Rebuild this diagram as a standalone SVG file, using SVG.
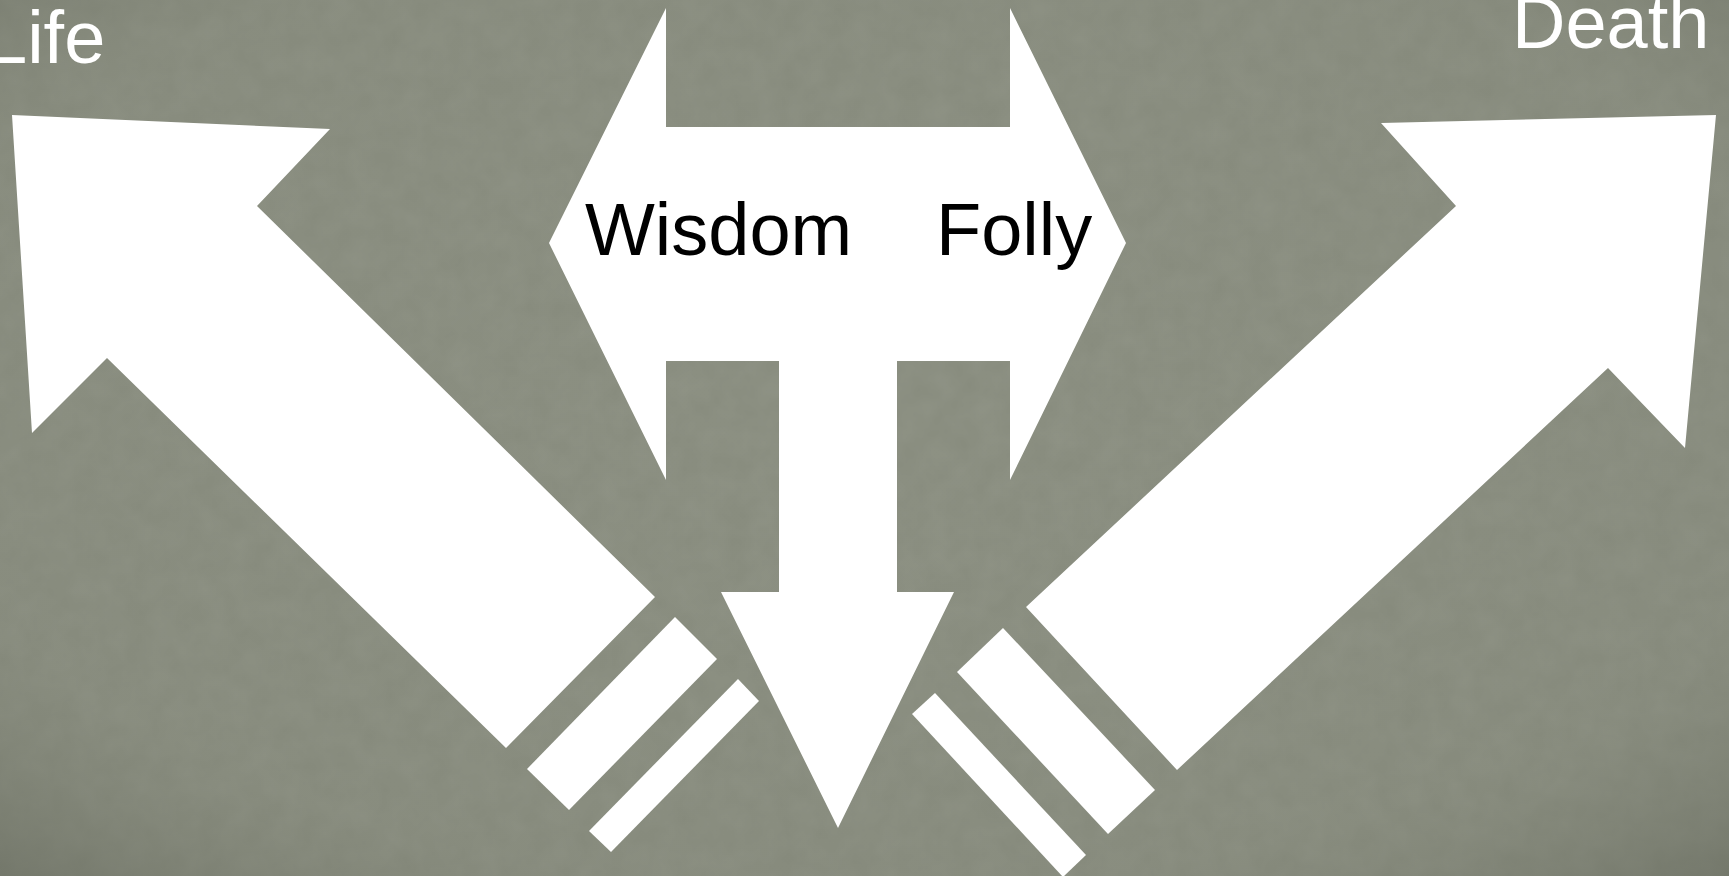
<svg xmlns="http://www.w3.org/2000/svg" width="1729" height="876" viewBox="0 0 1729 876">
<style>
.shape{fill:#ffffff;stroke:none}
.lbl{font-family:"Liberation Sans",Arial,sans-serif;font-size:74px}
.dark{fill:#000000}
.light{fill:#ffffff}
</style>
<defs>
<radialGradient id="vig" cx="50%" cy="45%" r="75%">
<stop offset="0" stop-color="#8b8f81" stop-opacity="0"/>
<stop offset="0.75" stop-color="#7a7e70" stop-opacity="0.15"/>
<stop offset="1" stop-color="#5f6357" stop-opacity="0.55"/>
</radialGradient>
<filter id="grain" x="0" y="0" width="100%" height="100%">
<feTurbulence type="fractalNoise" baseFrequency="0.04" numOctaves="3" seed="7" result="n"/>
<feColorMatrix in="n" type="matrix" values="0 0 0 0 0.45  0 0 0 0 0.47  0 0 0 0 0.41  0 0 0 0.18 0"/>
</filter>
</defs>
<g id="background">
<rect x="0" y="0" width="1729" height="876" fill="#878b7d"/>
<rect x="0" y="0" width="1729" height="876" filter="url(#grain)"/>
<rect x="0" y="0" width="1729" height="876" fill="url(#vig)"/>
</g>
<g id="connectors">
<polygon id="arrow-life" class="shape" points="12,115 330,129 257,206 655,597 506,748 107,358 32,433"/>
<polygon id="arrow-death" class="shape" points="1716,115 1685,448 1608,368 1177,770 1026,607 1456,206 1381,123"/>
<polygon id="stripe-l1" class="shape" points="675,617 717,659 569,810 527,769"/>
<polygon id="stripe-l2" class="shape" points="738,679 759,701 611,852 589,831"/>
<polygon id="stripe-r1" class="shape" points="1003,628 1155,790 1108,834 957,672"/>
<polygon id="stripe-r2" class="shape" points="935,693 1086,855 1063,877 912,714"/>
</g>
<g id="node-choice">
<polygon class="shape" points="549,243 666,8 666,127 1010,127 1010,8 1126,243 1010,480 1010,361 897,361 897,592 954,592 838,828 721,592 779,592 779,361 666,361 666,480"/>
<text class="lbl dark" x="585" y="255">Wisdom</text>
<text class="lbl dark" x="936" y="255">Folly</text>
</g>
<g id="node-life">
<text class="lbl light" x="-14" y="63">Life</text>
</g>
<g id="node-death">
<text class="lbl light" x="1512" y="48">Death</text>
</g>
</svg>
